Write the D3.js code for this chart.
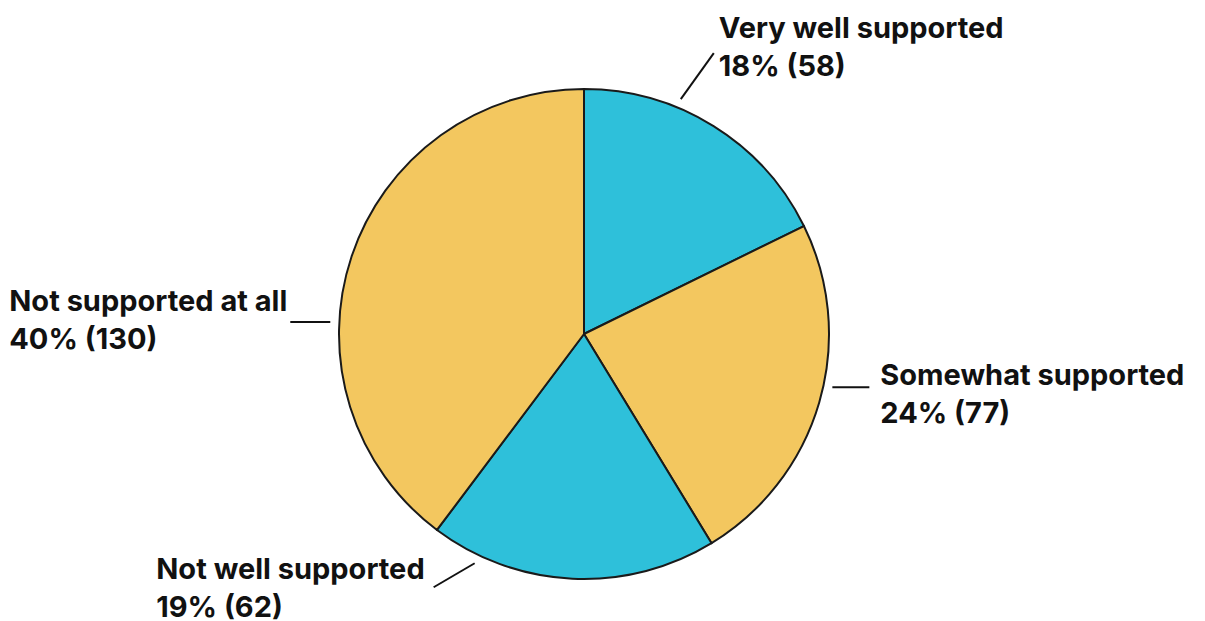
<!DOCTYPE html>
<html>
<head>
<meta charset="utf-8">
<script src="https://cdn.jsdelivr.net/npm/d3@7"></script>
<style>
  html, body { margin: 0; padding: 0; background: #ffffff; }
  svg { display: block; }
  text { font-family: Inter, "Noto Sans", sans-serif; font-weight: 700; fill: #111111; letter-spacing: 0px; }
</style>
</head>
<body>
<svg id="chart" width="1205" height="621"></svg>
<script>
// ---- data ----
const categories = ["Very well supported", "Somewhat supported", "Not well supported", "Not supported at all"];
const counts = [58, 77, 62, 130];
const percentLabels = ["18%", "24%", "19%", "40%"];
const sliceColors = ["#2ec0da", "#f3c75f", "#2ec0da", "#f3c75f"];

// ---- label layout (leader angle in degrees, leader end offset, text offset) ----
const leaderAngles = [22.4, 102.1, 205.5, 272.7];
const leaderEnds = [[33, -46], [37, 0], [-41, 24], [-40, 0]];
const textSide = ["right", "right", "left", "left"];
const textOffsets = [[5, -15], [11, -2], [-9, -8], [-3, -11]];

const width = 1205, height = 621;
const cx = 584, cy = 334, radius = 245;
const fontSize = 29, lineHeight = 38;

const svg = d3.select("#chart");
const g = svg.append("g").attr("transform", `translate(${cx},${cy})`);

const pie = d3.pie().sort(null).value(d => d.value);
const arc = d3.arc().innerRadius(0).outerRadius(radius);

const data = categories.map((c, i) => ({ name: c, value: counts[i], pct: percentLabels[i], color: sliceColors[i] }));
const arcs = pie(data);

g.selectAll("path.slice")
  .data(arcs)
  .join("path")
  .attr("class", "slice")
  .attr("d", arc)
  .attr("fill", d => d.data.color)
  .attr("stroke", "#1a1a1a")
  .attr("stroke-width", 2)
  .attr("stroke-linejoin", "round");

const leaderR = radius + 9;
arcs.forEach((a, i) => {
  const ang = leaderAngles[i] * Math.PI / 180;
  const x0 = leaderR * Math.sin(ang);
  const y0 = -leaderR * Math.cos(ang);
  const x1 = x0 + leaderEnds[i][0];
  const y1 = y0 + leaderEnds[i][1];
  g.append("line")
    .attr("x1", x0).attr("y1", y0).attr("x2", x1).attr("y2", y1)
    .attr("stroke", "#111111").attr("stroke-width", 2);

  const t = g.append("text")
    .attr("font-size", fontSize)
    .attr("y", y1 + textOffsets[i][1]);
  t.append("tspan").attr("dy", 0).text(a.data.name);
  t.append("tspan").attr("dy", lineHeight).text(`${a.data.pct} (${a.data.value})`);
  const tspans = t.selectAll("tspan");
  let tx;
  if (textSide[i] === "right") {
    tx = x1 + textOffsets[i][0];
  } else {
    let w = 0;
    tspans.each(function() { w = Math.max(w, this.getComputedTextLength()); });
    tx = x1 + textOffsets[i][0] - w;
  }
  tspans.attr("x", tx);
});
</script>
</body>
</html>
